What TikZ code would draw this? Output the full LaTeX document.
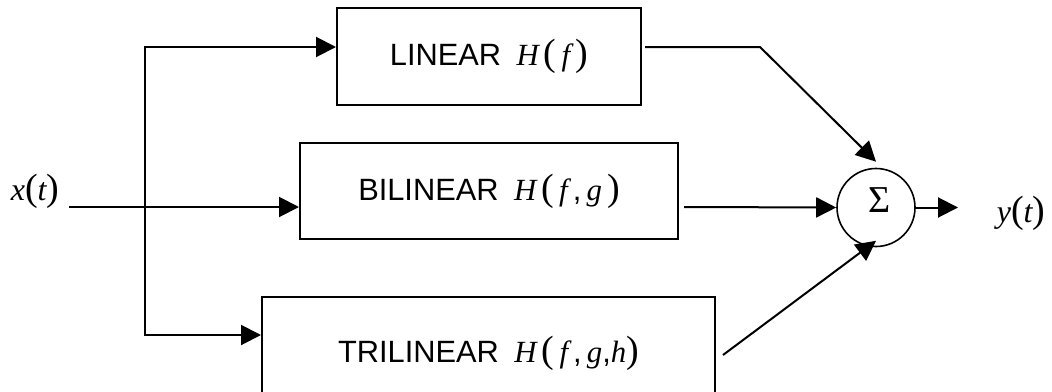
\documentclass[tikz,border=0pt]{standalone}
\usepackage{fontspec}
\setmainfont{Liberation Serif}
\setsansfont{Liberation Sans}
\usetikzlibrary{arrows.meta,calc}
\newcommand{\vr}[1]{{\rmfamily\itshape #1}}
\newcommand{\bp}[1]{{\rmfamily\upshape\fontsize{19}{19}\selectfont #1}}

\begin{document}
\begin{tikzpicture}[x=0.5pt,y=-0.5pt,line width=1pt,
  >={Triangle[length=10pt,width=10pt]},
  blok/.style={draw,inner sep=0pt,font=\sffamily\fontsize{15.4}{18}\selectfont},
  sig/.style={inner sep=0pt,font=\rmfamily\itshape\fontsize{16}{18}\selectfont}]
\path [use as bounding box,clip] (0,0) rectangle (1052,391);
\node [blok,minimum width=152pt,minimum height=48.5pt] (Lin) at (489,56.5)
  {LINEAR\hspace{0.5em}\vr{H}\,\bp{(}\,\vr{f}\,\bp{)}};
\node [blok,minimum width=189pt,minimum height=48pt] (Bil) at (489,191)
  {BILINEAR\hspace{0.5em}\vr{H}\,\bp{(}\,\vr{f}\,,\,\vr{g}\,\bp{)}};
\node [blok,minimum width=226.5pt,minimum height=56pt] (Tri) at (488.5,353)
  {TRILINEAR\hspace{0.5em}\vr{H}\,\bp{(}\,\vr{f}\,,\,\vr{g},\vr{h}\bp{)}};
\node [draw,circle,line width=0.8pt,minimum size=39pt,inner sep=0pt,
  font=\rmfamily\fontsize{19}{19}\selectfont] (Sum) at (876,207.5) {\hspace{4pt}\raisebox{7.5pt}{Σ}};
\node [sig] (Xin) at (35,191) {x\bp{(}t\bp{)}};
\node [sig] (Yout) at (1021,213.5) {y\bp{(}t\bp{)}};
\coordinate (In) at (69,207);
\coordinate (Top) at (145,47);
\coordinate (Bot) at (145,335);
\coordinate (Bend) at (760,47);
\coordinate (Out) at (958,207.5);
\draw [->] (In) -- (Bil.west |- In);
\draw [<->] (Lin.west |- Top) -- (Top) -- (Bot) -- (Tri.west |- Bot);
\draw [->] ($(Lin.east |- Top)+(3,0)$) -- (Bend) -- ($(Sum.north)+(0,-6)$);
\draw [->] ($(Bil.east |- In)+(5,0)$) -- (Sum.west);
\draw [->] ($(Tri.east)+(7,2)$) -- ($(Sum.south)+(0,-6.5)$);
\draw [->] (Sum.east) -- (Out);
\end{tikzpicture}
\end{document}
